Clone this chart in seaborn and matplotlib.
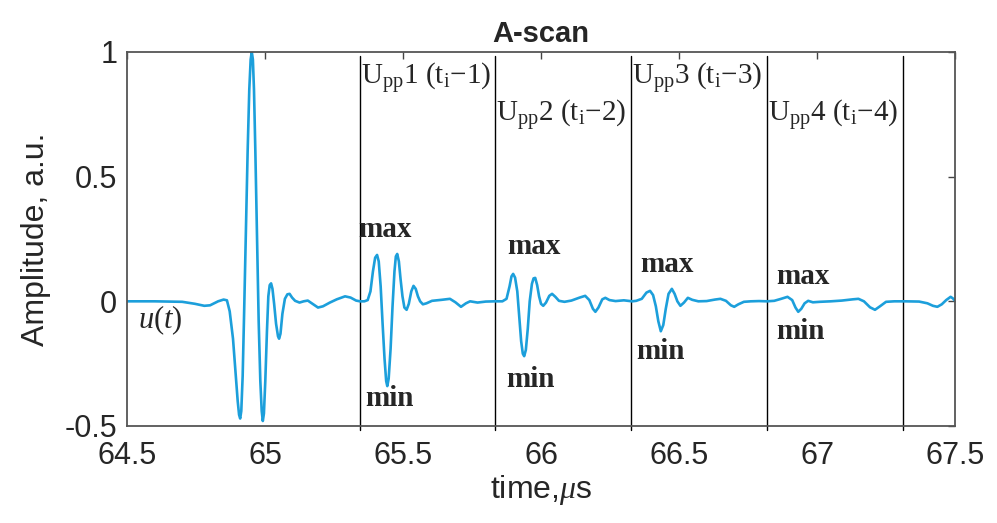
import numpy as np
import pandas as pd
import matplotlib
matplotlib.use("Agg")
import matplotlib.pyplot as plt
import seaborn as sns

# A-scan waveform (time in us, amplitude a.u.)
# main pulse
main_t = [64.500, 64.600, 64.700, 64.746, 64.780, 64.801, 64.830, 64.850, 64.862, 64.872,
          64.884, 64.893, 64.901, 64.906, 64.910, 64.914, 64.919, 64.924, 64.930, 64.937,
          64.943, 64.948, 64.952, 64.956, 64.960, 64.965, 64.971, 64.977, 64.983, 64.988,
          64.992, 64.996, 65.001, 65.007, 65.012, 65.017, 65.022, 65.027, 65.033, 65.040,
          65.047, 65.051, 65.056, 65.063, 65.072, 65.081, 65.089, 65.098, 65.109, 65.125,
          65.140, 65.155, 65.175, 65.192, 65.210, 65.235, 65.260, 65.290, 65.310, 65.330,
          65.344]
main_a = [0.000, 0.000, -0.002, -0.010, -0.018, -0.016, 0.000, 0.007, 0.004, -0.040,
          -0.150, -0.280, -0.400, -0.455, -0.470, -0.440, -0.300, -0.060, 0.250, 0.600,
          0.850, 0.970, 1.000, 0.970, 0.850, 0.600, 0.250, -0.080, -0.320, -0.440,
          -0.480, -0.450, -0.320, -0.120, 0.020, 0.065, 0.072, 0.050, -0.010, -0.090,
          -0.140, -0.150, -0.130, -0.050, 0.010, 0.028, 0.030, 0.015, 0.002, -0.005,
          0.000, 0.003, -0.012, -0.025, -0.020, -0.005, 0.008, 0.020, 0.015, 0.003,
          0.000]
# echo 1
echo1_t = [65.360, 65.372, 65.382, 65.391, 65.399, 65.406, 65.412, 65.419, 65.426, 65.433,
           65.439, 65.443, 65.448, 65.455, 65.462, 65.469, 65.474, 65.479, 65.485, 65.491,
           65.498, 65.505, 65.513, 65.521, 65.530, 65.538, 65.546, 65.554, 65.562, 65.572,
           65.585, 65.605, 65.640, 65.670, 65.690, 65.710, 65.728, 65.743, 65.770, 65.800,
           65.833]
echo1_a = [0.000, 0.005, 0.040, 0.120, 0.175, 0.186, 0.160, 0.060, -0.090, -0.230,
           -0.320, -0.340, -0.310, -0.190, -0.020, 0.120, 0.180, 0.190, 0.160, 0.090,
           0.020, -0.025, -0.034, -0.010, 0.040, 0.062, 0.050, 0.020, 0.000, -0.012,
           -0.008, 0.002, 0.006, 0.010, -0.004, -0.022, -0.008, 0.000, -0.005, -0.001,
           0.000]
# echo 2
echo2_t = [65.860, 65.875, 65.886, 65.893, 65.899, 65.906, 65.914, 65.921, 65.928, 65.934,
           65.939, 65.945, 65.952, 65.959, 65.967, 65.973, 65.979, 65.986, 65.993, 66.000,
           66.008, 66.018, 66.030, 66.040, 66.052, 66.065, 66.085, 66.110, 66.140, 66.160,
           66.175, 66.188, 66.197, 66.208, 66.222, 66.233, 66.248, 66.270, 66.300, 66.330]
echo2_a = [0.000, 0.010, 0.060, 0.100, 0.110, 0.095, 0.040, -0.060, -0.160, -0.210,
           -0.220, -0.195, -0.110, 0.000, 0.070, 0.092, 0.094, 0.065, 0.020, -0.010,
           -0.018, -0.005, 0.022, 0.030, 0.018, 0.002, -0.002, 0.003, 0.015, 0.022,
           0.005, -0.030, -0.042, -0.025, 0.008, 0.014, 0.005, 0.001, 0.004, 0.000]
# echo 3
echo3_t = [66.345, 66.365, 66.382, 66.395, 66.406, 66.416, 66.425, 66.434, 66.443, 66.452,
           66.462, 66.474, 66.484, 66.494, 66.505, 66.518, 66.532, 66.548, 66.570, 66.600,
           66.630, 66.650, 66.670, 66.688, 66.700, 66.715, 66.735, 66.760, 66.790, 66.819]
echo3_a = [0.002, 0.010, 0.035, 0.042, 0.025, -0.020, -0.080, -0.120, -0.095, -0.030,
           0.030, 0.050, 0.030, 0.000, -0.018, -0.005, 0.014, 0.006, 0.000, 0.001,
           0.007, 0.010, 0.002, -0.016, -0.022, -0.012, -0.002, 0.000, 0.001, 0.000]
# echo 4 and tail
echo4_t = [66.845, 66.870, 66.893, 66.910, 66.922, 66.932, 66.943, 66.955, 66.968, 66.985,
           67.010, 67.050, 67.090, 67.130, 67.150, 67.170, 67.192, 67.210, 67.228, 67.250,
           67.280, 67.320, 67.370, 67.400, 67.420, 67.436, 67.452, 67.468, 67.484, 67.492,
           67.500]
echo4_a = [0.002, 0.010, 0.018, 0.005, -0.025, -0.042, -0.030, -0.008, 0.002, -0.004,
           -0.002, 0.000, 0.003, 0.008, 0.010, 0.000, -0.024, -0.034, -0.020, -0.002,
           0.000, 0.000, -0.001, -0.008, -0.018, -0.022, -0.012, 0.005, 0.018, 0.012,
           0.002]

# window boundaries (vertical lines)
window_edges = [65.344, 65.833, 66.326, 66.819, 67.312]
window_labels = ["1", "2", "3", "4"]

x_ticks = [64.5, 65, 65.5, 66, 66.5, 67, 67.5]
x_tick_labels = ["64.5", "65", "65.5", "66", "66.5", "67", "67.5"]
y_ticks = [-0.5, 0, 0.5, 1]
y_tick_labels = ["-0.5", "0", "0.5", "1"]

df = pd.DataFrame({"time": main_t + echo1_t + echo2_t + echo3_t + echo4_t,
                   "amp": main_a + echo1_a + echo2_a + echo3_a + echo4_a})

sns.set_style("white")
plt.rcParams["font.family"] = ["Liberation Sans", "DejaVu Sans"]
plt.rcParams["mathtext.fontset"] = "custom"
plt.rcParams["mathtext.rm"] = "Liberation Serif"
plt.rcParams["mathtext.it"] = "Liberation Serif:italic"
plt.rcParams["mathtext.bf"] = "Liberation Serif:bold"

fig = plt.figure(figsize=(9.97, 5.23), dpi=100)
ax = fig.add_axes([0.1274, 0.1855, 0.8305, 0.7151])

sns.lineplot(data=df, x="time", y="amp", ax=ax, color="#1c9fdb", linewidth=1.9,
             sort=False)

for xe in window_edges:
    ax.axvline(xe, ymin=-0.01, ymax=0.99, color="black", linewidth=1.0, zorder=1,
               clip_on=False)

ax.set_xlim(64.5, 67.5)
ax.set_ylim(-0.5, 1)
ax.set_xticks(x_ticks)
ax.set_xticklabels(x_tick_labels)
ax.set_yticks(y_ticks)
ax.set_yticklabels(y_tick_labels)
ax.tick_params(direction="in", length=5, width=1, color="#444444",
               top=True, right=True, labelsize=22, labelcolor="#262626", pad=7)
ax.tick_params(axis="x", pad=11)
for s in ax.spines.values():
    s.set_color("#555555")
    s.set_linewidth(1.3)

ax.set_title("A-scan", fontsize=21, fontweight="bold", pad=7)
ax.set_xlabel(r"time,$\mu$s", fontsize=23, color="#262626", labelpad=1)
ax.set_ylabel("Amplitude, a.u.", fontsize=23, color="#262626", labelpad=10)

serif = "Liberation Serif"
# window labels above each pulse
label_y = [0.870, 0.718, 0.870, 0.718]
for xe, n, yy in zip(window_edges, window_labels, label_y):
    ax.text(xe + 0.003, yy, r"U$_{\mathrm{pp}}$" + n + r" (t$_{\mathrm{i}}$" + "\u2212" + n + ")",
            fontsize=21, family=serif, ha="left", va="baseline")

# max / min markers
max_y = [0.258, 0.190, 0.118, 0.070]
min_y = [-0.418, -0.342, -0.230, -0.150]
max_dx = [-0.007, 0.044, 0.033, 0.032]
min_dx = [0.018, 0.040, 0.018, 0.032]
for xe, my, ny, mdx, ndx in zip(window_edges, max_y, min_y, max_dx, min_dx):
    ax.text(xe + mdx, my, "max", fontsize=21, family=serif, fontweight="bold",
            ha="left", va="baseline")
    ax.text(xe + ndx, ny, "min", fontsize=21, family=serif, fontweight="bold",
            ha="left", va="baseline")

ax.text(64.54, -0.108, r"$u(t)$", fontsize=22, ha="left", va="baseline")

fig.savefig("out.png", dpi=100)
